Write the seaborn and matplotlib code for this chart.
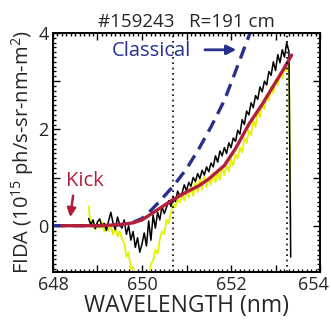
import numpy as np
import pandas as pd
import matplotlib
matplotlib.use("Agg")
import matplotlib.pyplot as plt
from matplotlib.ticker import MultipleLocator, FuncFormatter
from matplotlib.transforms import ScaledTranslation
import seaborn as sns

# ---- data ----
wl_data = [648.80, 648.85, 648.90, 648.95, 649.00, 649.05, 649.10, 649.15, 649.20, 649.25,
           649.30, 649.35, 649.40, 649.45, 649.50, 649.55, 649.60, 649.65, 649.70, 649.75,
           649.80, 649.85, 649.90, 649.95, 650.00, 650.05, 650.10, 650.15, 650.20, 650.25,
           650.30, 650.35, 650.40, 650.45, 650.50, 650.55, 650.60, 650.65, 650.70, 650.75,
           650.80, 650.85, 650.90, 650.95, 651.00, 651.05, 651.10, 651.15, 651.20, 651.25,
           651.30, 651.35, 651.40, 651.45, 651.50, 651.55, 651.60, 651.65, 651.70, 651.75,
           651.80, 651.85, 651.90, 651.95, 652.00, 652.05, 652.10, 652.15, 652.20, 652.25,
           652.30, 652.35, 652.40, 652.45, 652.50, 652.55, 652.60, 652.65, 652.70, 652.75,
           652.80, 652.85, 652.90, 652.95, 653.00, 653.05, 653.10, 653.15, 653.20, 653.25,
           653.30, 653.34]

fida_black = [0.15, 0.02, 0.12, -0.06, 0.08, 0.14, -0.02, 0.05, -0.10, 0.10,
              0.28, 0.05, -0.08, 0.18, 0.02, -0.05, 0.12, -0.18, 0.00, -0.30,
              -0.12, -0.45, -0.25, -0.55, -0.38, -0.15, -0.42, 0.10, -0.30, 0.22,
              -0.05, 0.28, 0.12, 0.40, 0.25, 0.38, 0.52, 0.40, 0.60, 0.50,
              0.72, 0.62, 0.68, 0.85, 0.72, 0.90, 0.82, 1.00, 0.92, 1.08,
              0.98, 1.15, 1.05, 1.22, 1.12, 1.30, 1.22, 1.45, 1.32, 1.55,
              1.45, 1.62, 1.50, 1.72, 1.62, 1.82, 1.75, 1.98, 1.90, 2.20,
              2.10, 2.38, 2.30, 2.55, 2.45, 2.70, 2.62, 2.88, 2.78, 3.00,
              2.92, 3.20, 3.12, 3.40, 3.22, 3.55, 3.38, 3.65, 3.50, 3.80,
              3.62, -0.65]

fida_yellow = [0.40, -0.02, 0.06, -0.08, 0.04, -0.05, 0.08, -0.12, 0.02, -0.10,
               0.00, -0.18, -0.06, -0.22, -0.12, -0.28, -0.35, -0.65, -0.55, -0.90,
               -0.85, -1.10, -1.00, -1.20, -1.05, -1.20, -0.98, -1.10, -0.80, -0.72,
               -0.50, -0.58, -0.28, -0.12, -0.18, 0.12, 0.05, 0.28, 0.45, 0.38,
               0.55, 0.48, 0.65, 0.52, 0.70, 0.58, 0.80, 0.62, 0.90, 0.70,
               0.98, 0.75, 1.02, 0.80, 1.00, 0.85, 1.10, 0.90, 1.12, 0.95,
               1.22, 1.05, 1.28, 1.12, 1.38, 1.25, 1.48, 1.40, 1.62, 1.52,
               1.82, 1.72, 1.98, 1.88, 2.18, 2.05, 2.38, 2.25, 2.52, 2.42,
               2.72, 2.60, 2.88, 2.75, 3.02, 2.92, 3.18, 3.05, 3.30, 3.20,
               3.38, -0.05]

wl_kick = [648.20, 648.50, 649.00, 649.50, 649.80, 650.00, 650.30, 650.66, 651.00, 651.28,
           651.50, 651.85, 652.10, 652.41, 652.70, 652.93, 653.15, 653.36]
fida_kick = [0.00, 0.00, 0.00, 0.02, 0.06, 0.12, 0.30, 0.52, 0.70, 0.83,
             0.97, 1.25, 1.60, 2.12, 2.52, 2.87, 3.20, 3.54]

wl_classical = [648.00, 648.50, 649.00, 649.50, 649.80, 650.00, 650.15, 650.37, 650.71, 651.00,
                651.28, 651.55, 651.85, 652.10, 652.41, 652.60]
fida_classical = [0.00, 0.00, 0.00, 0.02, 0.07, 0.15, 0.27, 0.48, 0.83, 1.18,
                  1.60, 2.05, 2.60, 3.20, 3.96, 4.50]

vlines = [650.69, 653.26]

# ---- plot ----
sns.set_theme(style="ticks")
plt.rcParams['font.family'] = ['Open Sans', 'DejaVu Sans']
plt.rcParams['mathtext.fontset'] = 'custom'
plt.rcParams['mathtext.rm'] = 'Open Sans'

fig = plt.figure(figsize=(3.31, 3.23), dpi=100)
ax = fig.add_axes([0.160, 0.158, 0.807, 0.740])

yellow = "#e2f200"
black = "#000000"
red = "#b31f3a"
blue = "#27318c"

sns.lineplot(x=wl_data, y=fida_yellow, ax=ax, color=yellow, lw=1.3, sort=False, estimator=None)
sns.lineplot(x=wl_data, y=fida_black, ax=ax, color=black, lw=1.1, sort=False, estimator=None)
sns.lineplot(x=wl_classical, y=fida_classical, ax=ax, color=blue, lw=2.4,
             sort=False, estimator=None)
ax.lines[-1].set_dashes([3.8, 2.2])
sns.lineplot(x=wl_kick, y=fida_kick, ax=ax, color=red, lw=2.4, sort=False, estimator=None)

for v in vlines:
    ax.axvline(v, color="black", lw=1.2, ls=(0, (1, 2.2)))

ax.set_xlim(648, 654)
ax.set_ylim(-0.96, 4)

ax.xaxis.set_major_locator(MultipleLocator(1))
ax.xaxis.set_minor_locator(MultipleLocator(0.1))
ax.yaxis.set_major_locator(MultipleLocator(1))
ax.yaxis.set_minor_locator(MultipleLocator(0.1))
even = FuncFormatter(lambda v, p: f"{int(round(v))}" if int(round(v)) % 2 == 0 else "")
ax.xaxis.set_major_formatter(even)
ax.yaxis.set_major_formatter(even)

ax.tick_params(which="both", direction="in", top=True, right=True, labelsize=13,
               color="black", width=1.0)
ax.tick_params(which="major", length=5, pad=3)
ax.tick_params(which="minor", length=2.5)
for s in ax.spines.values():
    s.set_linewidth(1.4)
    s.set_color("black")

ax.set_xlabel("WAVELENGTH (nm)", fontsize=16.5, labelpad=0)
ax.set_ylabel("FIDA (10$^{15}$ ph/s-sr-nm-m$^{2}$)", fontsize=14.5, labelpad=2)
ax.set_title("#159243   R=191 cm", fontsize=13.5, pad=4)

ax.text(650.22, 3.62, "Classical", color=blue, fontsize=14.5, ha="center", va="center")
ax.annotate("", xy=(652.18, 3.65), xytext=(651.35, 3.65),
            arrowprops=dict(arrowstyle="-|>", color=blue, lw=2, mutation_scale=14))
ax.text(648.72, 0.92, "Kick", color=red, fontsize=14.5, ha="center", va="center")
ax.annotate("", xy=(648.38, 0.12), xytext=(648.46, 0.68),
            arrowprops=dict(arrowstyle="-|>", color=red, lw=1.8, mutation_scale=13))

fig.canvas.draw()
for lab in ax.get_xticklabels():
    if lab.get_text() == "654":
        lab.set_transform(lab.get_transform() + ScaledTranslation(-7 / 100, 0, fig.dpi_scale_trans))

fig.savefig("out.png", dpi=100)
